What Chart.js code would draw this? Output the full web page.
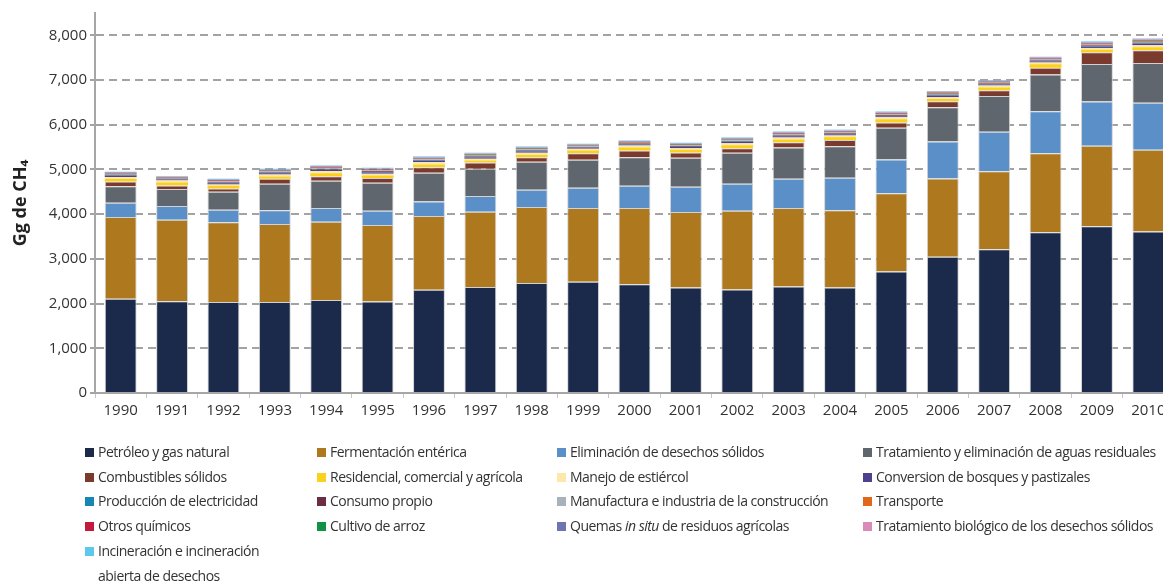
<!DOCTYPE html>
<html lang="es">
<head>
  <meta charset="utf-8">
  <title>Emisiones de CH4 por fuente</title>
  <style>
    html, body { margin: 0; padding: 0; background: #fff; overflow: hidden; }
    body { width: 1163px; height: 581px; position: relative; font-family: "Open Sans", sans-serif; }
    #chartBox { position: absolute; left: 0; top: 0; width: 1174px; height: 425px; }
    #legend { position: absolute; left: 0; top: 0; width: 1163px; height: 581px; pointer-events: none; }
    .item { position: absolute; font-size: 14px; line-height: 24.7px; color: #333; letter-spacing: -0.5px; white-space: nowrap; }
    .item .sw { position: absolute; left: 0; top: 8px; width: 9px; height: 9px; }
    .item .tx { position: absolute; left: 13px; top: 0; }
    .item .tx.wrap { white-space: normal; width: 185px; }
  </style>
</head>
<body>
  <div id="chartBox">
    <canvas id="myChart" width="1174" height="425"></canvas>
  </div>
  <div id="legend"></div>

  <script src="https://cdn.jsdelivr.net/npm/chart.js/dist/chart.umd.min.js"></script>
  <script>
    // data (Gg de CH4)
    const years = ['1990', '1991', '1992', '1993', '1994', '1995', '1996', '1997', '1998', '1999', '2000',
      '2001', '2002', '2003', '2004', '2005', '2006', '2007', '2008', '2009', '2010'];

    const petroleo = [2110, 2055, 2035, 2035, 2080, 2045, 2310, 2370, 2460, 2490, 2435, 2360, 2315, 2380, 2360, 2720, 3050, 3215, 3595, 3730, 3615];
    const fermentacion = [1827, 1823, 1783, 1745, 1753, 1712, 1648, 1687, 1699, 1647, 1702, 1688, 1764, 1757, 1726, 1750, 1750, 1745, 1770, 1800, 1826];
    const eliminacion = [321, 304, 283, 306, 304, 322, 328, 348, 389, 456, 500, 567, 603, 656, 730, 754, 826, 883, 938, 989, 1049];
    const aguas = [364, 379, 402, 596, 612, 625, 641, 612, 624, 625, 639, 647, 692, 699, 705, 708, 766, 803, 819, 840, 893];
    const combustibles = [111, 83, 74, 111, 102, 103, 125, 140, 104, 147, 149, 119, 103, 119, 139, 118, 134, 126, 156, 261, 282];
    const residencial = [60, 67, 60, 52, 67, 60, 60, 45, 53, 60, 67, 60, 67, 60, 63, 74, 53, 60, 74, 60, 67];
    const estiercol = [37, 44, 29, 40, 45, 38, 52, 38, 45, 38, 45, 36, 44, 45, 37, 44, 37, 44, 38, 38, 44];
    const conversion = [28, 20, 26, 30, 28, 30, 26, 28, 30, 22, 22, 24, 26, 28, 26, 24, 28, 24, 26, 30, 30];
    const electricidad = [10, 8, 10, 10, 10, 10, 10, 10, 12, 8, 8, 10, 10, 10, 10, 10, 12, 10, 10, 12, 12];
    const consumo = [12, 10, 14, 14, 12, 14, 12, 14, 14, 12, 12, 12, 14, 14, 14, 14, 14, 14, 14, 14, 16];
    const manufactura = [14, 12, 14, 16, 16, 16, 16, 16, 16, 14, 14, 14, 16, 16, 16, 16, 18, 16, 18, 18, 20];
    const transporte = [10, 8, 12, 10, 10, 12, 10, 10, 12, 10, 10, 10, 10, 12, 10, 10, 12, 10, 10, 12, 12];
    const quimicos = [8, 6, 10, 8, 8, 8, 8, 8, 8, 6, 6, 8, 8, 8, 8, 8, 8, 8, 8, 8, 10];
    const arroz = [6, 6, 6, 6, 6, 6, 6, 8, 8, 6, 6, 8, 6, 6, 6, 6, 6, 6, 6, 6, 6];
    const quemas = [12, 10, 12, 12, 12, 12, 12, 12, 12, 10, 12, 10, 12, 12, 12, 12, 14, 12, 12, 14, 14];
    const biologico = [8, 6, 8, 10, 10, 10, 10, 10, 10, 10, 10, 10, 10, 10, 12, 12, 14, 12, 14, 16, 16];
    const incineracion = [12, 10, 15, 16, 15, 16, 17, 18, 19, 14, 12, 14, 16, 18, 16, 16, 16, 16, 16, 17, 20];

    const yTicks = [0, 1000, 2000, 3000, 4000, 5000, 6000, 7000, 8000];

    const series = [
      ['Petróleo y gas natural', petroleo, '#1b2a4b'],
      ['Fermentación entérica', fermentacion, '#ad781e'],
      ['Eliminación de desechos sólidos', eliminacion, '#5b8fc7'],
      ['Tratamiento y eliminación de aguas residuales', aguas, '#5f666d'],
      ['Combustibles sólidos', combustibles, '#7a3b2e'],
      ['Residencial, comercial y agrícola', residencial, '#fad11c'],
      ['Manejo de estiércol', estiercol, '#fde8aa'],
      ['Conversion de bosques y pastizales', conversion, '#4e3f8f'],
      ['Producción de electricidad', electricidad, '#1686b3'],
      ['Consumo propio', consumo, '#6b2d40'],
      ['Manufactura e industria de la construcción', manufactura, '#a9b2ba'],
      ['Transporte', transporte, '#e0681a'],
      ['Otros químicos', quimicos, '#c3193c'],
      ['Cultivo de arroz', arroz, '#109245'],
      ['Quemas in situ de residuos agrícolas', quemas, '#6d74b1'],
      ['Tratamiento biológico de los desechos sólidos', biologico, '#d88ab9'],
      ['Incineración e incineración abierta de desechos', incineracion, '#5cc8ec']
    ];

    // config block
    const data = {
      labels: years,
      datasets: series.map(s => ({
        label: s[0],
        data: s[1],
        backgroundColor: s[2],
        borderColor: 'rgba(205, 205, 205, 0.9)',
        borderWidth: s[1][0] > 100 ? 1 : 0,
        categoryPercentage: 1.0,
        barPercentage: 0.62
      }))
    };

    const tickFont = { family: 'Open Sans', size: 15 };

    const config = {
      type: 'bar',
      data: data,
      options: {
        responsive: false,
        animation: false,
        layout: { padding: { top: 13, left: 0, right: 0, bottom: 0 } },
        plugins: { legend: { display: false }, tooltip: { enabled: false } },
        scales: {
          x: {
            stacked: true,
            afterFit: (scale) => { scale.height = 32; },
            border: { color: '#a6a6a6', width: 2 },
            grid: { offset: true, drawOnChartArea: false, color: '#c4c4c4', tickLength: 5, lineWidth: 1 },
            ticks: { color: '#333', font: tickFont, padding: 4, maxRotation: 0 }
          },
          y: {
            stacked: true,
            min: 0,
            max: 8500,
            afterFit: (scale) => { scale.width = 95; },
            afterBuildTicks: (scale) => { scale.ticks = yTicks.map(v => ({ value: v })); },
            border: { color: '#a6a6a6', width: 2, dash: [8, 5] },
            grid: { color: '#a3a3a3', lineWidth: 2, tickLength: 5 },
            ticks: {
              color: '#333', font: tickFont, padding: 3,
              callback: (v) => v.toLocaleString('en-US')
            },
            title: {
              display: true, text: 'Gg de CH₄', color: '#222',
              font: { family: 'Open Sans', size: 18, weight: 'bold' },
              padding: { top: 10, bottom: 0 }
            }
          }
        }
      }
    };

    // chart instance
    const ctx = document.getElementById('myChart').getContext('2d');
    const myChart = new Chart(ctx, config);

    // legend, 4 columns
    const colX = [85, 317, 557, 863];
    const legend = document.getElementById('legend');
    series.forEach((s, i) => {
      const row = Math.floor(i / 4);
      const col = i % 4;
      const item = document.createElement('div');
      item.className = 'item';
      item.style.left = colX[col] + 'px';
      item.style.top = (440 + row * 24.7) + 'px';
      const sw = document.createElement('span');
      sw.className = 'sw';
      sw.style.background = s[2];
      const tx = document.createElement('span');
      tx.className = 'tx' + (s[0].length > 46 ? ' wrap' : '');
      tx.innerHTML = s[0].replace('in situ', '<i>in situ</i>');
      item.appendChild(sw);
      item.appendChild(tx);
      legend.appendChild(item);
    });
  </script>
</body>
</html>
